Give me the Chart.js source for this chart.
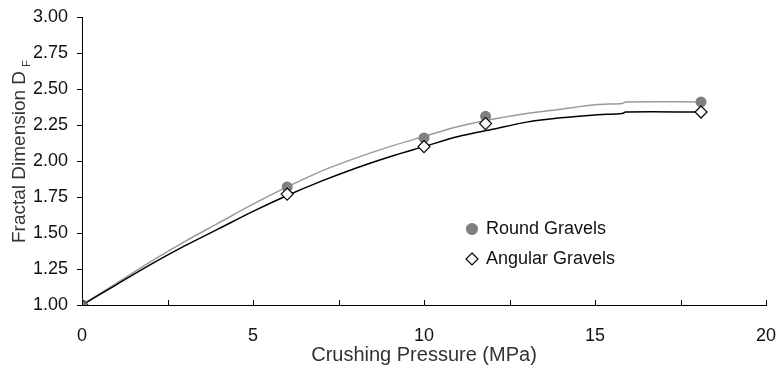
<!DOCTYPE html>
<html>
<head>
<meta charset="utf-8">
<script src="https://cdn.jsdelivr.net/npm/chart.js@4"></script>
<style>
  html, body { margin: 0; padding: 0; background: #fff; }
  #wrap { width: 779px; height: 367px; }
</style>
</head>
<body>
<div id="wrap"><canvas id="chart" width="779" height="367"></canvas></div>
<script>
// measured points
const pressure   = [0, 6, 10, 11.8, 18.1];
const roundDF    = [1.00, 1.82, 2.16, 2.31, 2.41];
const angularDF  = [1.00, 1.77, 2.10, 2.26, 2.34];

// fitted curves
const fitX       = [0, 1, 2, 3, 4, 5, 6, 7, 8, 9, 10, 11, 12, 13, 14, 15, 15.8, 15.9, 18.1];
const roundFit   = [1.00, 1.15, 1.30, 1.44, 1.57, 1.70, 1.82, 1.93, 2.02, 2.10, 2.17, 2.24, 2.29, 2.33, 2.36, 2.39, 2.40, 2.41, 2.41];
const angularFit = [1.00, 1.14, 1.28, 1.41, 1.53, 1.65, 1.76, 1.86, 1.95, 2.03, 2.10, 2.17, 2.22, 2.27, 2.30, 2.32, 2.33, 2.34, 2.34];

const xTicks = [0, 5, 10, 15, 20];

const FONT = "'Liberation Sans', Arial, sans-serif";
const pts = (xs, ys) => xs.map((x, i) => ({ x, y: ys[i] }));

// y title with subscript F
const yTitlePlugin = {
  id: 'yTitle',
  afterDraw(chart) {
    const ctx = chart.ctx;
    const main = 'Fractal Dimension D';
    ctx.save();
    ctx.translate(20, 157);
    ctx.rotate(-Math.PI / 2);
    ctx.fillStyle = '#333';
    ctx.font = '19px ' + FONT;
    ctx.textAlign = 'center';
    ctx.textBaseline = 'middle';
    ctx.fillText(main, 0, 0);
    const w = ctx.measureText(main).width;
    ctx.font = '11px ' + FONT;
    ctx.textAlign = 'left';
    ctx.fillText('F', w / 2 + 4, 7);
    ctx.restore();
  }
};

// x ticks point up into the plot
const innerTicks = {
  id: 'innerTicks',
  afterDraw(chart) {
    const { ctx, chartArea } = chart;
    const sx = chart.scales.x;
    ctx.save();
    ctx.strokeStyle = '#000';
    ctx.lineWidth = 1;
    sx.ticks.forEach(t => {
      const px = Math.round(sx.getPixelForValue(t.value)) + 0.5;
      ctx.beginPath();
      ctx.moveTo(px, chartArea.bottom);
      ctx.lineTo(px, chartArea.bottom - 5);
      ctx.stroke();
    });
    ctx.restore();
  }
};

// legend inside the plot
const insideLegend = {
  id: 'insideLegend',
  afterDraw(chart) {
    const { ctx, chartArea } = chart;
    const items = [
      { text: 'Round Gravels', ds: chart.data.datasets[1], style: 'circle' },
      { text: 'Angular Gravels', ds: chart.data.datasets[0], style: 'rectRot' }
    ];
    const x0 = chartArea.left + 390;
    let y = chartArea.top + 212;
    ctx.save();
    items.forEach(it => {
      ctx.fillStyle = it.style === 'circle' ? '#808080' : '#ffffff';
      ctx.strokeStyle = it.style === 'circle' ? '#808080' : '#000000';
      ctx.lineWidth = 1.2;
      ctx.beginPath();
      if (it.style === 'circle') {
        ctx.arc(x0, y, it.ds.pointRadius, 0, Math.PI * 2);
      } else {
        const r = it.ds.pointRadius;
        ctx.moveTo(x0, y - r); ctx.lineTo(x0 + r, y);
        ctx.lineTo(x0, y + r); ctx.lineTo(x0 - r, y);
        ctx.closePath();
      }
      ctx.fill();
      ctx.stroke();
      ctx.fillStyle = '#111';
      ctx.font = '18px ' + FONT;
      ctx.textBaseline = 'middle';
      ctx.fillText(it.text, x0 + 14, y);
      y += 30;
    });
    ctx.restore();
  }
};

new Chart(document.getElementById('chart').getContext('2d'), {
  type: 'scatter',
  data: {
    datasets: [
      {
        label: 'Angular Gravels',
        data: pts(pressure, angularDF),
        showLine: false,
        pointStyle: 'rectRot',
        pointRadius: 6,
        pointBorderWidth: 1.2,
        pointBackgroundColor: ['#808080', '#ffffff', '#ffffff', '#ffffff', '#ffffff'],
        pointBorderColor: ['#404040', '#000000', '#000000', '#000000', '#000000'],
      },
      {
        label: 'Round Gravels',
        data: pts(pressure, roundDF),
        showLine: false,
        pointStyle: 'circle',
        pointRadius: 5.5,
        pointBorderWidth: 0,
        pointBackgroundColor: '#808080',
        pointBorderColor: '#808080',
      },
      {
        label: 'Angular fit',
        data: pts(fitX, angularFit),
        showLine: true,
        borderColor: '#000000',
        borderWidth: 1.5,
        pointRadius: 0,
        tension: 0.3,
      },
      {
        label: 'Round fit',
        data: pts(fitX, roundFit),
        showLine: true,
        borderColor: '#9a9a9a',
        borderWidth: 1.5,
        pointRadius: 0,
        tension: 0.3,
      }
    ]
  },
  options: {
    responsive: false,
    animation: false,
    layout: { padding: 0 },
    plugins: {
      legend: { display: false },
      tooltip: { enabled: false },
      title: { display: false }
    },
    scales: {
      x: {
        type: 'linear',
        min: 0,
        max: 20,
        afterBuildTicks: (s) => { s.ticks = [0, 2.5, 5, 7.5, 10, 12.5, 15, 17.5, 20].map(v => ({ value: v })); },
        ticks: {
          autoSkip: false,
          maxRotation: 0,
          padding: 12,
          color: '#111',
          font: { family: FONT, size: 18 },
          callback: (v) => (xTicks.includes(v) ? String(v) : '')
        },
        grid: { display: false },
        border: { display: true, color: '#000', width: 1 },
        title: {
          display: true,
          text: 'Crushing Pressure (MPa)',
          color: '#333',
          font: { family: FONT, size: 20 },
          padding: { top: -8, bottom: 0 }
        },
        afterFit: (s) => { s.height = 62; s.paddingLeft = 0; s.paddingRight = 13; }
      },
      y: {
        type: 'linear',
        min: 1,
        max: 3,
        ticks: {
          stepSize: 0.25,
          padding: 9,
          color: '#111',
          font: { family: FONT, size: 18 },
          callback: (v) => v.toFixed(2)
        },
        grid: { drawOnChartArea: false, tickLength: 5, color: '#000' },
        border: { display: true, color: '#000', width: 1 },
        afterFit: (s) => { s.width = 82; s.paddingTop = 17; s.paddingBottom = 0; }
      }
    }
  },
  plugins: [yTitlePlugin, innerTicks, insideLegend]
});
</script>
</body>
</html>
